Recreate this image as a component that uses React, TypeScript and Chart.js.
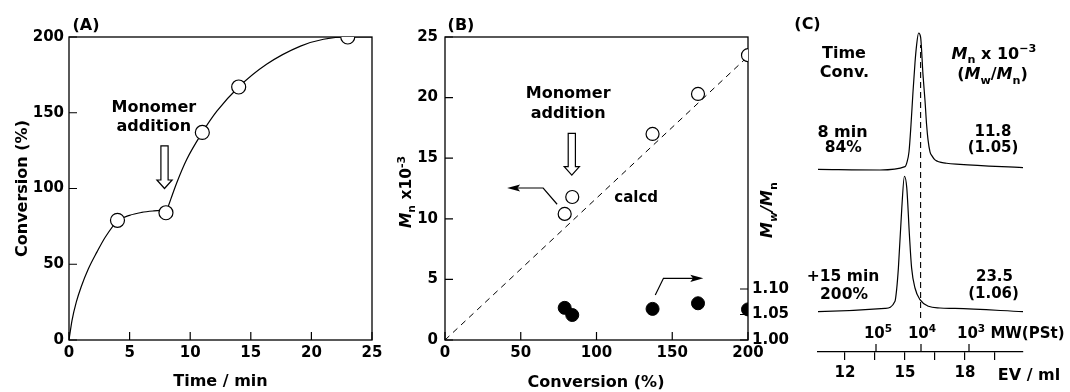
import React, { useEffect, useRef } from 'react';
import { Chart, registerables } from 'chart.js';

Chart.register(...registerables);

const W = 1070;
const H = 392;
const FAMILY = '"DejaVu Sans", sans-serif';

// ---------------- Panel A : conversion vs time ----------------
const timeMin = [4, 8, 11, 14, 23];
const conversionPct = [79, 84, 137, 167, 200];
const fit1Time = [0, 0.25, 0.6, 1.0, 1.6, 2.3, 3.0, 4.0, 5.0, 6.0, 7.0, 8.0];
const fit1Conv = [0, 13, 25, 35, 47, 58, 68, 78.5, 82.3, 84.2, 85.2, 85.8];
const fit2Time = [8, 8.4, 8.9, 9.7, 11, 12.2, 14, 16.3, 19.1, 21, 23, 25];
const fit2Conv = [84, 93, 104, 119, 137, 151, 167, 182, 194, 198.5, 200, 200];
const aXTicks = [0, 5, 10, 15, 20, 25];
const aYTicks = [0, 50, 100, 150, 200];

// ---------------- Panel B : Mn and Mw/Mn vs conversion ----------------
const convB = [79, 84, 137, 167, 200];
const mnB = [10.4, 11.8, 17.0, 20.3, 23.5];
const pdiB = [1.063, 1.049, 1.061, 1.072, 1.06];
const calcdConv = [0, 200];
const calcdMn = [0, 23.4];
const bXTicks = [0, 50, 100, 150, 200];
const bYTicks = [0, 5, 10, 15, 20, 25];
const bY2Ticks = [1.0, 1.05, 1.1];

// ---------------- Panel C : SEC curves ----------------
const ev8min = [10.65, 13.75, 15.0, 15.1, 15.2, 15.3, 15.4, 15.5, 15.58, 15.68, 15.78, 15.9, 16.0, 16.08, 16.15, 16.25, 16.35, 16.5, 17.08, 17.75, 20.9];
const ri8min = [-1.0, -1.5, 1, 4.4, 12, 32, 56.5, 78, 91, 100, 97, 69, 50, 32, 21, 12, 9, 6, 3.5, 2.7, 0.2];
const ev15min = [10.65, 14.0, 14.5, 14.58, 14.67, 14.84, 14.97, 15.09, 15.22, 15.33, 15.5, 15.75, 16.17, 16.75, 17.5, 20.9];
const ri15min = [-0.5, 1.9, 7.2, 15.6, 31.9, 76.3, 99.8, 91, 56.5, 31.9, 17, 8.4, 3.5, 2.2, 1.9, -0.5];
const TOP_BASE = 136.3;
const BOTTOM_BASE = 30.4;
const refEV = [15.78, 15.78];
const refLevel = [25.2, 227.4];
const evTicks = [12, 13.5, 15, 16.5, 18, 19.5];
const evLabels = [12, 15, 18];
const mwTickEV = [13.55, 15.8, 18.2];
const mwExp = ['5', '4', '3'];

type Seg = { t: string; it?: boolean; sub?: boolean; sup?: boolean };

function drawRich(ctx: CanvasRenderingContext2D, segs: Seg[], x: number, y: number, size: number, align: 'left' | 'center' | 'right' = 'center', rot = 0) {
  ctx.save();
  ctx.translate(x, y);
  if (rot) ctx.rotate(rot);
  ctx.fillStyle = '#000';
  ctx.textAlign = 'left';
  ctx.textBaseline = 'alphabetic';
  const fontOf = (s: Seg) => `${s.it ? 'italic ' : ''}bold ${s.sub || s.sup ? size * 0.7 : size}px ${FAMILY}`;
  const ws = segs.map((s) => {
    ctx.font = fontOf(s);
    return ctx.measureText(s.t).width;
  });
  const total = ws.reduce((a, b) => a + b, 0);
  let cx = align === 'center' ? -total / 2 : align === 'right' ? -total : 0;
  const base = size * 0.364;
  segs.forEach((s, i) => {
    ctx.font = fontOf(s);
    const dy = s.sub ? size * 0.28 : s.sup ? -size * 0.42 : 0;
    ctx.fillText(s.t, cx, base + dy);
    cx += ws[i];
  });
  ctx.restore();
}

function hollowArrow(ctx: CanvasRenderingContext2D, x: number, yTop: number, yTip: number) {
  const sw = 3.6, hw = 7.6, hl = 8.5;
  ctx.save();
  ctx.beginPath();
  ctx.moveTo(x - sw, yTop);
  ctx.lineTo(x + sw, yTop);
  ctx.lineTo(x + sw, yTip - hl);
  ctx.lineTo(x + hw, yTip - hl);
  ctx.lineTo(x, yTip);
  ctx.lineTo(x - hw, yTip - hl);
  ctx.lineTo(x - sw, yTip - hl);
  ctx.closePath();
  ctx.fillStyle = '#fff';
  ctx.fill();
  ctx.strokeStyle = '#000';
  ctx.lineWidth = 1.2;
  ctx.stroke();
  ctx.restore();
}

function polyArrow(ctx: CanvasRenderingContext2D, pts: [number, number][]) {
  const n = pts.length;
  const [tx, ty] = pts[n - 1];
  const [px, py] = pts[n - 2];
  const ang = Math.atan2(ty - py, tx - px);
  const hl = 13, hw = 3.6;
  const bx = tx - Math.cos(ang) * hl * 0.8;
  const by = ty - Math.sin(ang) * hl * 0.8;
  ctx.save();
  ctx.strokeStyle = '#000';
  ctx.lineWidth = 1.2;
  ctx.beginPath();
  ctx.moveTo(pts[0][0], pts[0][1]);
  for (let i = 1; i < n - 1; i++) ctx.lineTo(pts[i][0], pts[i][1]);
  ctx.lineTo(bx, by);
  ctx.stroke();
  ctx.beginPath();
  ctx.moveTo(tx, ty);
  ctx.lineTo(tx - Math.cos(ang) * hl + Math.sin(ang) * hw, ty - Math.sin(ang) * hl - Math.cos(ang) * hw);
  ctx.lineTo(bx, by);
  ctx.lineTo(tx - Math.cos(ang) * hl - Math.sin(ang) * hw, ty - Math.sin(ang) * hl + Math.cos(ang) * hw);
  ctx.closePath();
  ctx.fillStyle = '#000';
  ctx.fill();
  ctx.restore();
}

function drawFrame(chart: any) {
  const { ctx, chartArea: a, scales } = chart;
  ctx.save();
  ctx.strokeStyle = '#000';
  ctx.lineWidth = 1.3;
  ctx.strokeRect(a.left, a.top, a.right - a.left, a.bottom - a.top);
  ctx.lineWidth = 1.2;
  ctx.beginPath();
  const tl = 8;
  scales.x.ticks.forEach((t: any) => {
    const p = scales.x.getPixelForValue(t.value);
    ctx.moveTo(p, a.bottom);
    ctx.lineTo(p, a.bottom - tl);
  });
  scales.y.ticks.forEach((t: any) => {
    const p = scales.y.getPixelForValue(t.value);
    ctx.moveTo(a.left, p);
    ctx.lineTo(a.left + tl, p);
  });
  if (scales.y2) {
    scales.y2.ticks.forEach((t: any) => {
      const p = scales.y2.getPixelForValue(t.value);
      ctx.moveTo(a.right, p);
      ctx.lineTo(a.right - tl, p);
    });
  }
  ctx.stroke();
  ctx.restore();
}

const tickFont = { family: FAMILY, size: 15, weight: 'bold' as const };

function setTicks(arr: number[]) {
  return (scale: any) => {
    scale.ticks = arr.map((v) => ({ value: v }));
  };
}

function linScale(min: number, max: number, ticks: number[], padding: number, extra: any = {}) {
  return {
    type: 'linear',
    min,
    max,
    afterBuildTicks: setTicks(ticks),
    grid: { display: false, drawTicks: false },
    border: { display: false },
    ticks: { font: tickFont, color: '#000', padding, autoSkip: false, maxRotation: 0, callback: (v: number) => String(v) },
    ...extra,
  };
}

const pts = (xs: number[], ys: number[], off = 0) => xs.map((x, i) => ({ x, y: ys[i] + off }));

function configA(): any {
  return {
    type: 'scatter',
    data: {
      datasets: [
        { data: pts(timeMin, conversionPct), pointRadius: 7, pointBackgroundColor: '#fff', pointBorderColor: '#000', pointBorderWidth: 1.2, showLine: false, order: 0 },
        { data: pts(fit1Time, fit1Conv), showLine: true, pointRadius: 0, borderColor: '#000', borderWidth: 1.2, cubicInterpolationMode: 'monotone', order: 1 },
        { data: pts(fit2Time, fit2Conv), showLine: true, pointRadius: 0, borderColor: '#000', borderWidth: 1.2, cubicInterpolationMode: 'monotone', order: 1 },
      ],
    },
    options: {
      responsive: false,
      animation: false,
      devicePixelRatio: 1,
      events: [],
      layout: { padding: { left: 0, right: W - 372, top: 37, bottom: 0 } },
      plugins: { legend: { display: false }, tooltip: { enabled: false } },
      scales: {
        x: linScale(0, 25, aXTicks, 4.5, { afterFit: (s: any) => { s.height = 52; } }),
        y: linScale(0, 200, aYTicks, 5, { afterFit: (s: any) => { s.width = 69; } }),
      },
    },
    plugins: [
      {
        id: 'panelA',
        beforeDatasetsDraw: (chart: any) => drawFrame(chart),
        afterDraw: (chart: any) => {
          const { ctx, scales: { x, y } } = chart;
          drawRich(ctx, [{ t: '(A)' }], 86, 24.5, 16);
          drawRich(ctx, [{ t: 'Conversion (%)' }], 21, 188.5, 16, 'center', -Math.PI / 2);
          drawRich(ctx, [{ t: 'Time / min' }], 220.5, 380, 16);
          drawRich(ctx, [{ t: 'Monomer' }], x.getPixelForValue(7.0), y.getPixelForValue(154.6), 16);
          drawRich(ctx, [{ t: 'addition' }], x.getPixelForValue(7.0), y.getPixelForValue(142.0), 16);
          hollowArrow(ctx, x.getPixelForValue(7.88), y.getPixelForValue(128.2), y.getPixelForValue(100));
        },
      },
    ],
  };
}

function configB(): any {
  return {
    type: 'scatter',
    data: {
      datasets: [
        { data: pts(convB, mnB), yAxisID: 'y', pointRadius: 6.5, pointBackgroundColor: '#fff', pointBorderColor: '#000', pointBorderWidth: 1.2, showLine: false, order: 0 },
        { data: pts(convB, pdiB), yAxisID: 'y2', pointRadius: 6.5, pointBackgroundColor: '#000', pointBorderColor: '#000', pointBorderWidth: 1, showLine: false, order: 0 },
        { data: pts(calcdConv, calcdMn), yAxisID: 'y', showLine: true, pointRadius: 0, borderColor: '#000', borderWidth: 1, borderDash: [6, 5], order: 1 },
      ],
    },
    options: {
      responsive: false,
      animation: false,
      devicePixelRatio: 1,
      events: [],
      layout: { padding: { left: 380, right: W - 748 - 42, top: 37, bottom: 0 } },
      plugins: { legend: { display: false }, tooltip: { enabled: false } },
      scales: {
        x: linScale(0, 200, bXTicks, 4.5, { afterFit: (s: any) => { s.height = 52; } }),
        y: linScale(0, 25, bYTicks, 7, { position: 'left', afterFit: (s: any) => { s.width = 65; } }),
        y2: {
          ...linScale(1.0, 1.0 + 303 / 510, bY2Ticks, 4, { position: 'right', afterFit: (s: any) => { s.width = 42; } }),
          ticks: { font: tickFont, color: '#000', padding: 4, autoSkip: false, maxRotation: 0, callback: (v: number) => v.toFixed(2) },
        },
      },
    },
    plugins: [
      {
        id: 'panelB',
        beforeDatasetsDraw: (chart: any) => drawFrame(chart),
        afterDraw: (chart: any) => {
          const { ctx, scales: { x, y } } = chart;
          drawRich(ctx, [{ t: '(B)' }], 461, 24.5, 16);
          drawRich(ctx, [{ t: 'Conversion (%)' }], 596, 381, 16);
          drawRich(ctx, [{ t: 'M', it: true }, { t: 'n', sub: true }, { t: ' x10' }, { t: '-3', sup: true }], 405.5, 192, 15.5, 'center', -Math.PI / 2);
          drawRich(ctx, [{ t: 'M', it: true }, { t: 'w', sub: true, it: true }, { t: '/', it: true }, { t: 'M', it: true }, { t: 'n', sub: true }], 766.5, 210, 16, 'center', -Math.PI / 2);
          drawRich(ctx, [{ t: 'Monomer' }], x.getPixelForValue(81.3), y.getPixelForValue(20.46), 16);
          drawRich(ctx, [{ t: 'addition' }], x.getPixelForValue(81.3), y.getPixelForValue(18.77), 16);
          hollowArrow(ctx, x.getPixelForValue(83.7), y.getPixelForValue(17.05), y.getPixelForValue(13.6));
          drawRich(ctx, [{ t: 'calcd' }], x.getPixelForValue(126.2), y.getPixelForValue(11.84), 15);
          polyArrow(ctx, [
            [x.getPixelForValue(74), y.getPixelForValue(11.2)],
            [x.getPixelForValue(64.8), y.getPixelForValue(12.54)],
            [x.getPixelForValue(41), y.getPixelForValue(12.54)],
          ]);
          polyArrow(ctx, [
            [x.getPixelForValue(138.8), y.getPixelForValue(3.71)],
            [x.getPixelForValue(144.2), y.getPixelForValue(5.09)],
            [x.getPixelForValue(170.5), y.getPixelForValue(5.09)],
          ]);
        },
      },
    ],
  };
}

function configC(): any {
  return {
    type: 'scatter',
    data: {
      datasets: [
        { data: pts(ev8min, ri8min, TOP_BASE), showLine: true, pointRadius: 0, borderColor: '#000', borderWidth: 1.2, cubicInterpolationMode: 'monotone' },
        { data: pts(ev15min, ri15min, BOTTOM_BASE), showLine: true, pointRadius: 0, borderColor: '#000', borderWidth: 1.2, cubicInterpolationMode: 'monotone' },
        { data: pts(refEV, refLevel), showLine: true, pointRadius: 0, borderColor: '#000', borderWidth: 1.1, borderDash: [6, 4] },
      ],
    },
    options: {
      responsive: false,
      animation: false,
      devicePixelRatio: 1,
      events: [],
      layout: { padding: { left: 818, right: W - 1023, top: 22, bottom: 0 } },
      plugins: { legend: { display: false }, tooltip: { enabled: false } },
      scales: {
        x: {
          type: 'linear',
          min: 10.65,
          max: 20.9,
          afterBuildTicks: setTicks(evTicks),
          afterFit: (s: any) => { s.height = 40; },
          grid: { display: true, drawOnChartArea: false, drawTicks: true, tickLength: 8, color: '#000', lineWidth: 1.2 },
          border: { display: true, color: '#000', width: 1.3 },
          ticks: { font: tickFont, color: '#000', padding: 4, autoSkip: false, maxRotation: 0, callback: (v: number) => (evLabels.includes(v) ? String(v) : '') },
        },
        y: { type: 'linear', display: false, min: 0, max: 330 / 1.35 },
      },
    },
    plugins: [
      {
        id: 'panelC',
        afterDraw: (chart: any) => {
          const { ctx, chartArea: a, scales: { x } } = chart;
          ctx.save();
          ctx.strokeStyle = '#000';
          ctx.lineWidth = 1.2;
          ctx.beginPath();
          mwTickEV.forEach((ev) => {
            const p = x.getPixelForValue(ev);
            ctx.moveTo(p, a.bottom);
            ctx.lineTo(p, a.bottom - 8);
          });
          ctx.stroke();
          ctx.restore();
          drawRich(ctx, [{ t: '10' }, { t: mwExp[0], sup: true }], 878, 333, 15);
          drawRich(ctx, [{ t: '10' }, { t: mwExp[1], sup: true }], 922, 333, 15);
          drawRich(ctx, [{ t: '10' }, { t: mwExp[2], sup: true }, { t: ' MW(PSt)' }], 957, 333, 15, 'left');
          drawRich(ctx, [{ t: 'EV / ml' }], 1029, 374, 16);
          drawRich(ctx, [{ t: '(C)' }], 807.5, 23, 16);
          drawRich(ctx, [{ t: 'Time' }], 844, 52, 16);
          drawRich(ctx, [{ t: 'Conv.' }], 844.5, 71, 16);
          drawRich(ctx, [{ t: 'M', it: true }, { t: 'n', sub: true }, { t: ' x 10' }, { t: '\u22123', sup: true }], 994, 52.7, 16);
          drawRich(ctx, [{ t: '(' }, { t: 'M', it: true }, { t: 'w', sub: true }, { t: '/' }, { t: 'M', it: true }, { t: 'n', sub: true }, { t: ')' }], 992.5, 73.3, 16);
          drawRich(ctx, [{ t: '8 min' }], 842.5, 130.8, 16);
          drawRich(ctx, [{ t: '84%' }], 843.3, 146.3, 15.5);
          drawRich(ctx, [{ t: '11.8' }], 993, 130.8, 15);
          drawRich(ctx, [{ t: '(1.05)' }], 993, 147, 15);
          drawRich(ctx, [{ t: '+15 min' }], 843, 275.8, 15.5);
          drawRich(ctx, [{ t: '200%' }], 844, 293, 15.5);
          drawRich(ctx, [{ t: '23.5' }], 994.5, 275.8, 15);
          drawRich(ctx, [{ t: '(1.06)' }], 993.5, 293, 15);
        },
      },
    ],
  };
}

function useChart(ref: React.RefObject<HTMLCanvasElement>, make: () => any) {
  useEffect(() => {
    if (!ref.current) return;
    const chart = new Chart(ref.current, make());
    return () => chart.destroy();
  }, []);
}

export default function App() {
  const refA = useRef<HTMLCanvasElement>(null);
  const refB = useRef<HTMLCanvasElement>(null);
  const refC = useRef<HTMLCanvasElement>(null);
  useChart(refA, configA);
  useChart(refB, configB);
  useChart(refC, configC);
  const cs: React.CSSProperties = { position: 'absolute', left: 0, top: 0 };
  return (
    <div style={{ position: 'absolute', left: 0, top: 0, width: W, height: H, background: '#fff' }}>
      <canvas ref={refA} width={W} height={H} style={cs} />
      <canvas ref={refB} width={W} height={H} style={cs} />
      <canvas ref={refC} width={W} height={H} style={cs} />
    </div>
  );
}
